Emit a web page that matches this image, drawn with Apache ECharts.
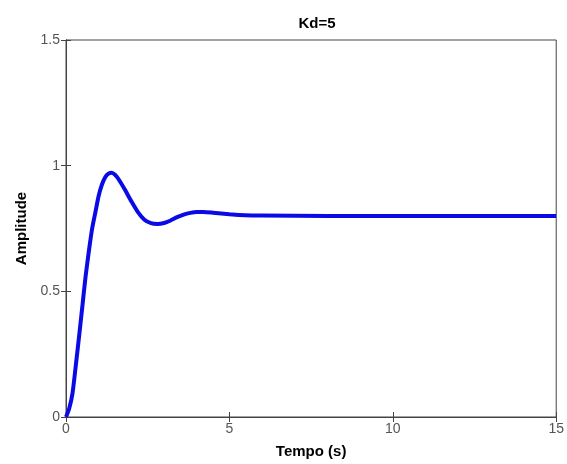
<!DOCTYPE html>
<html>
<head>
<meta charset="utf-8">
<script src="https://cdn.jsdelivr.net/npm/echarts@6/dist/echarts.min.js"></script>
<style>
html, body { margin: 0; padding: 0; background: #fff; }
#main { width: 567px; height: 464px; }
</style>
</head>
<body>
<div id="main"></div>
<script>
// step response
var tempo = [0, 0.1, 0.2, 0.3, 0.4, 0.5, 0.6, 0.7, 0.8, 0.9, 1.0, 1.1, 1.2, 1.3, 1.4, 1.5, 1.6, 1.8, 2.0, 2.2, 2.4, 2.6, 2.8, 3.0, 3.2, 3.4, 3.6, 3.8, 4.0, 4.2, 4.5, 5.0, 5.5, 6.0, 8.0, 10.0, 12.0, 15.0];
var amplitude = [0, 0.035, 0.095, 0.205, 0.32, 0.44, 0.56, 0.66, 0.75, 0.815, 0.88, 0.925, 0.954, 0.968, 0.972, 0.964, 0.948, 0.905, 0.858, 0.815, 0.785, 0.771, 0.768, 0.772, 0.782, 0.795, 0.805, 0.812, 0.816, 0.816, 0.813, 0.807, 0.803, 0.802, 0.80, 0.80, 0.80, 0.80];
var xTicks = [0, 5, 10, 15];
var yTicks = [0, 0.5, 1, 1.5];

var chart = echarts.init(document.getElementById('main'));
var font = 'Liberation Sans, Arial, sans-serif';
var axisLine = { show: true, lineStyle: { color: '#444', width: 1 } };
var tick = { show: true, inside: true, length: 5, lineStyle: { color: '#444' } };
var tickLabel = { color: '#555', fontSize: 14, fontFamily: font };
var option = {
	animation: false,
	title: {
		text: 'Kd=5',
		left: 312,
		top: 11,
		textAlign: 'center',
		textStyle: { fontSize: 15, fontWeight: 'bold', color: '#000', fontFamily: font }
	},
	grid: { left: 66, right: 7, top: 40, bottom: 45, show: true, borderColor: '#444', borderWidth: 1 },
	xAxis: [{
		type: 'value', min: 0, max: 15, interval: 5,
		name: 'Tempo (s)', nameLocation: 'middle', nameGap: 27,
		nameTextStyle: { fontSize: 15, fontWeight: 'bold', color: '#000', fontFamily: font },
		axisLine: axisLine, axisTick: tick,
		axisLabel: Object.assign({ margin: 5 }, tickLabel),
		splitLine: { show: false }
	}, {
		type: 'value', position: 'top', min: 0, max: 15, interval: 5,
		axisLine: axisLine, axisTick: tick, axisLabel: { show: false }, splitLine: { show: false }
	}],
	yAxis: [{
		type: 'value', min: 0, max: 1.5, interval: 0.5,
		name: 'Amplitude', nameLocation: 'middle', nameGap: 31, nameRotate: 90,
		nameTextStyle: { fontSize: 15, fontWeight: 'bold', color: '#000', fontFamily: font },
		axisLine: axisLine, axisTick: tick,
		axisLabel: Object.assign({ margin: 6 }, tickLabel),
		splitLine: { show: false }
	}, {
		type: 'value', position: 'right', min: 0, max: 1.5, interval: 0.5,
		axisLine: axisLine, axisTick: tick, axisLabel: { show: false }, splitLine: { show: false }
	}],
	series: [{
		name: 'step',
		type: 'line',
		smooth: 0.2,
		showSymbol: false,
		lineStyle: { color: '#0a0ae6', width: 4 },
		data: tempo.map(function (t, i) { return [t, amplitude[i]]; })
	}]
};
chart.setOption(option);
</script>
</body>
</html>
